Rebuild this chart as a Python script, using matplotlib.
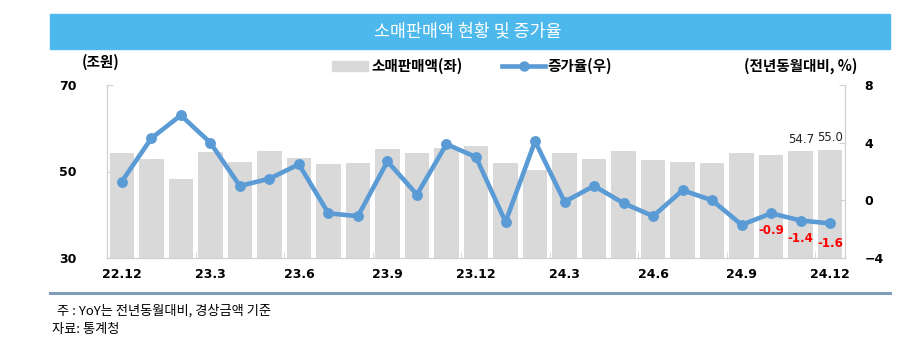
import matplotlib
matplotlib.use("Agg")
import matplotlib.pyplot as plt
from matplotlib.patches import Rectangle
from matplotlib.lines import Line2D
import numpy as np

plt.rcParams['font.family'] = ['DejaVu Sans', 'Noto Sans CJK KR']

# Monthly retail sales (trillion won) and YoY growth (%), 2022.12 - 2024.12
months = ["22.12", "23.1", "23.2", "23.3", "23.4", "23.5", "23.6", "23.7", "23.8",
          "23.9", "23.10", "23.11", "23.12", "24.1", "24.2", "24.3", "24.4", "24.5",
          "24.6", "24.7", "24.8", "24.9", "24.10", "24.11", "24.12"]
sales = [54.2, 52.8, 48.2, 54.4, 52.3, 54.8, 53.1, 51.7, 52.0,
         55.2, 54.2, 55.5, 56.0, 52.0, 50.3, 54.3, 52.8, 54.7,
         52.6, 52.1, 52.0, 54.3, 53.8, 54.7, 55.0]
growth = [1.3, 4.3, 5.9, 4.0, 1.0, 1.5, 2.5, -0.9, -1.1,
          2.7, 0.4, 3.9, 3.0, -1.5, 4.1, -0.1, 1.0, -0.2,
          -1.1, 0.7, 0.0, -1.7, -0.9, -1.4, -1.6]
tick_labels = ["22.12", "23.3", "23.6", "23.9", "23.12", "24.3", "24.6", "24.9", "24.12"]
sales_labeled = ["24.11", "24.12"]
growth_labeled = ["24.10", "24.11", "24.12"]

BAR = "#D9D9D9"
LINE = "#5B9BD5"
SPINE = "#D0D0D0"
KR = ['Noto Sans CJK KR', 'DejaVu Sans']

W, H = 908, 343
fig = plt.figure(figsize=(W / 100, H / 100), dpi=100)

def fx(px):
    return px / W

def fy(py):
    return 1 - py / H

# Title banner
fig.patches.append(Rectangle((fx(50), fy(49)), fx(890) - fx(50), fy(14) - fy(49),
                             transform=fig.transFigure, color="#4DB8EC", zorder=0))
fig.text(fx(468), fy(31.5), "소매판매액 현황 및 증가율", color="white", fontsize=12.5,
         ha="center", va="center", family=KR)

# Main axes
ax = fig.add_axes([fx(107), fy(258), fx(845) - fx(107), fy(85) - fy(258)])
x = np.arange(len(months))
ax.bar(x, sales, width=0.83, color=BAR, zorder=2)
ax.set_xlim(-0.5, len(months) - 0.5)
ax.set_ylim(30, 70)
ax.set_yticks([30, 50, 70])
ax.set_xticks([months.index(t) for t in tick_labels])
ax.set_xticklabels(tick_labels, fontsize=9, fontweight="bold")
ax.set_xticks(np.arange(2.5, len(months), 3), minor=True)
ax.tick_params(axis="x", which="major", length=0, pad=7)
ax.tick_params(axis="x", which="minor", length=4, direction="in", color=SPINE)
ax.tick_params(axis="y", length=4, direction="in", color=SPINE, labelsize=9, pad=22)
for lab in ax.get_yticklabels():
    lab.set_fontweight("bold")
ax.spines["top"].set_visible(False)
for s in ["left", "right", "bottom"]:
    ax.spines[s].set_color(SPINE)

for m in sales_labeled:
    i = months.index(m)
    ax.annotate(f"{sales[i]:.1f}", (i, sales[i]), xytext=(0, 4), textcoords="offset points",
                ha="center", va="bottom", fontsize=8.5, color="#222222")

# Growth rate on the right axis
ax2 = ax.twinx()
ax2.plot(x, growth, color=LINE, lw=3.3, marker="o", ms=6.8, zorder=3)
ax2.set_ylim(-4, 8)
ax2.set_yticks([-4, 0, 4, 8])
ax2.tick_params(axis="y", length=4, direction="in", color=SPINE, labelsize=9, pad=14)
for lab in ax2.get_yticklabels():
    lab.set_fontweight("bold")
ax2.spines["top"].set_visible(False)
for s in ["left", "right", "bottom"]:
    ax2.spines[s].set_color(SPINE)

offsets = {"24.10": -8, "24.11": -8, "24.12": -10}
for m in growth_labeled:
    i = months.index(m)
    ax2.annotate(f"{growth[i]:.1f}", (i, growth[i]), xytext=(0, offsets[m]),
                 textcoords="offset points", ha="center", va="top",
                 fontsize=8.5, fontweight="bold", color="#FF0000")

# Unit labels and legend
fig.text(fx(82), fy(62), "(조원)", fontsize=10.5, fontweight="bold", ha="left",
         va="center", family=KR)
fig.text(fx(857), fy(66), "(전년동월대비, %)", fontsize=10.5, fontweight="bold",
         ha="right", va="center", family=KR)
fig.patches.append(Rectangle((fx(332), fy(71)), fx(368) - fx(332), fy(61) - fy(71),
                             transform=fig.transFigure, color=BAR))
fig.text(fx(371), fy(66), "소매판매액(좌)", fontsize=10.5, fontweight="bold",
         ha="left", va="center", family=KR)
fig.lines.append(Line2D([fx(502), fx(545)], [fy(66), fy(66)], transform=fig.transFigure,
                        color=LINE, lw=3.3))
fig.lines.append(Line2D([fx(523.5)], [fy(66)], transform=fig.transFigure,
                        color=LINE, marker="o", ms=6.5))
fig.text(fx(547), fy(66), "증가율(우)", fontsize=10.5, fontweight="bold",
         ha="left", va="center", family=KR)

# Bottom rule and notes
fig.lines.append(Line2D([fx(50), fx(890)], [fy(293), fy(293)], transform=fig.transFigure,
                        color="#7F9DBB", lw=2.2))
fig.text(fx(57), fy(311), "주 : YoY는 전년동월대비, 경상금액 기준", fontsize=9.5,
         ha="left", va="center", family=KR)
fig.text(fx(52), fy(330), "자료: 통계청", fontsize=9.5, ha="left", va="center", family=KR)

fig.savefig("out.png", dpi=100)
